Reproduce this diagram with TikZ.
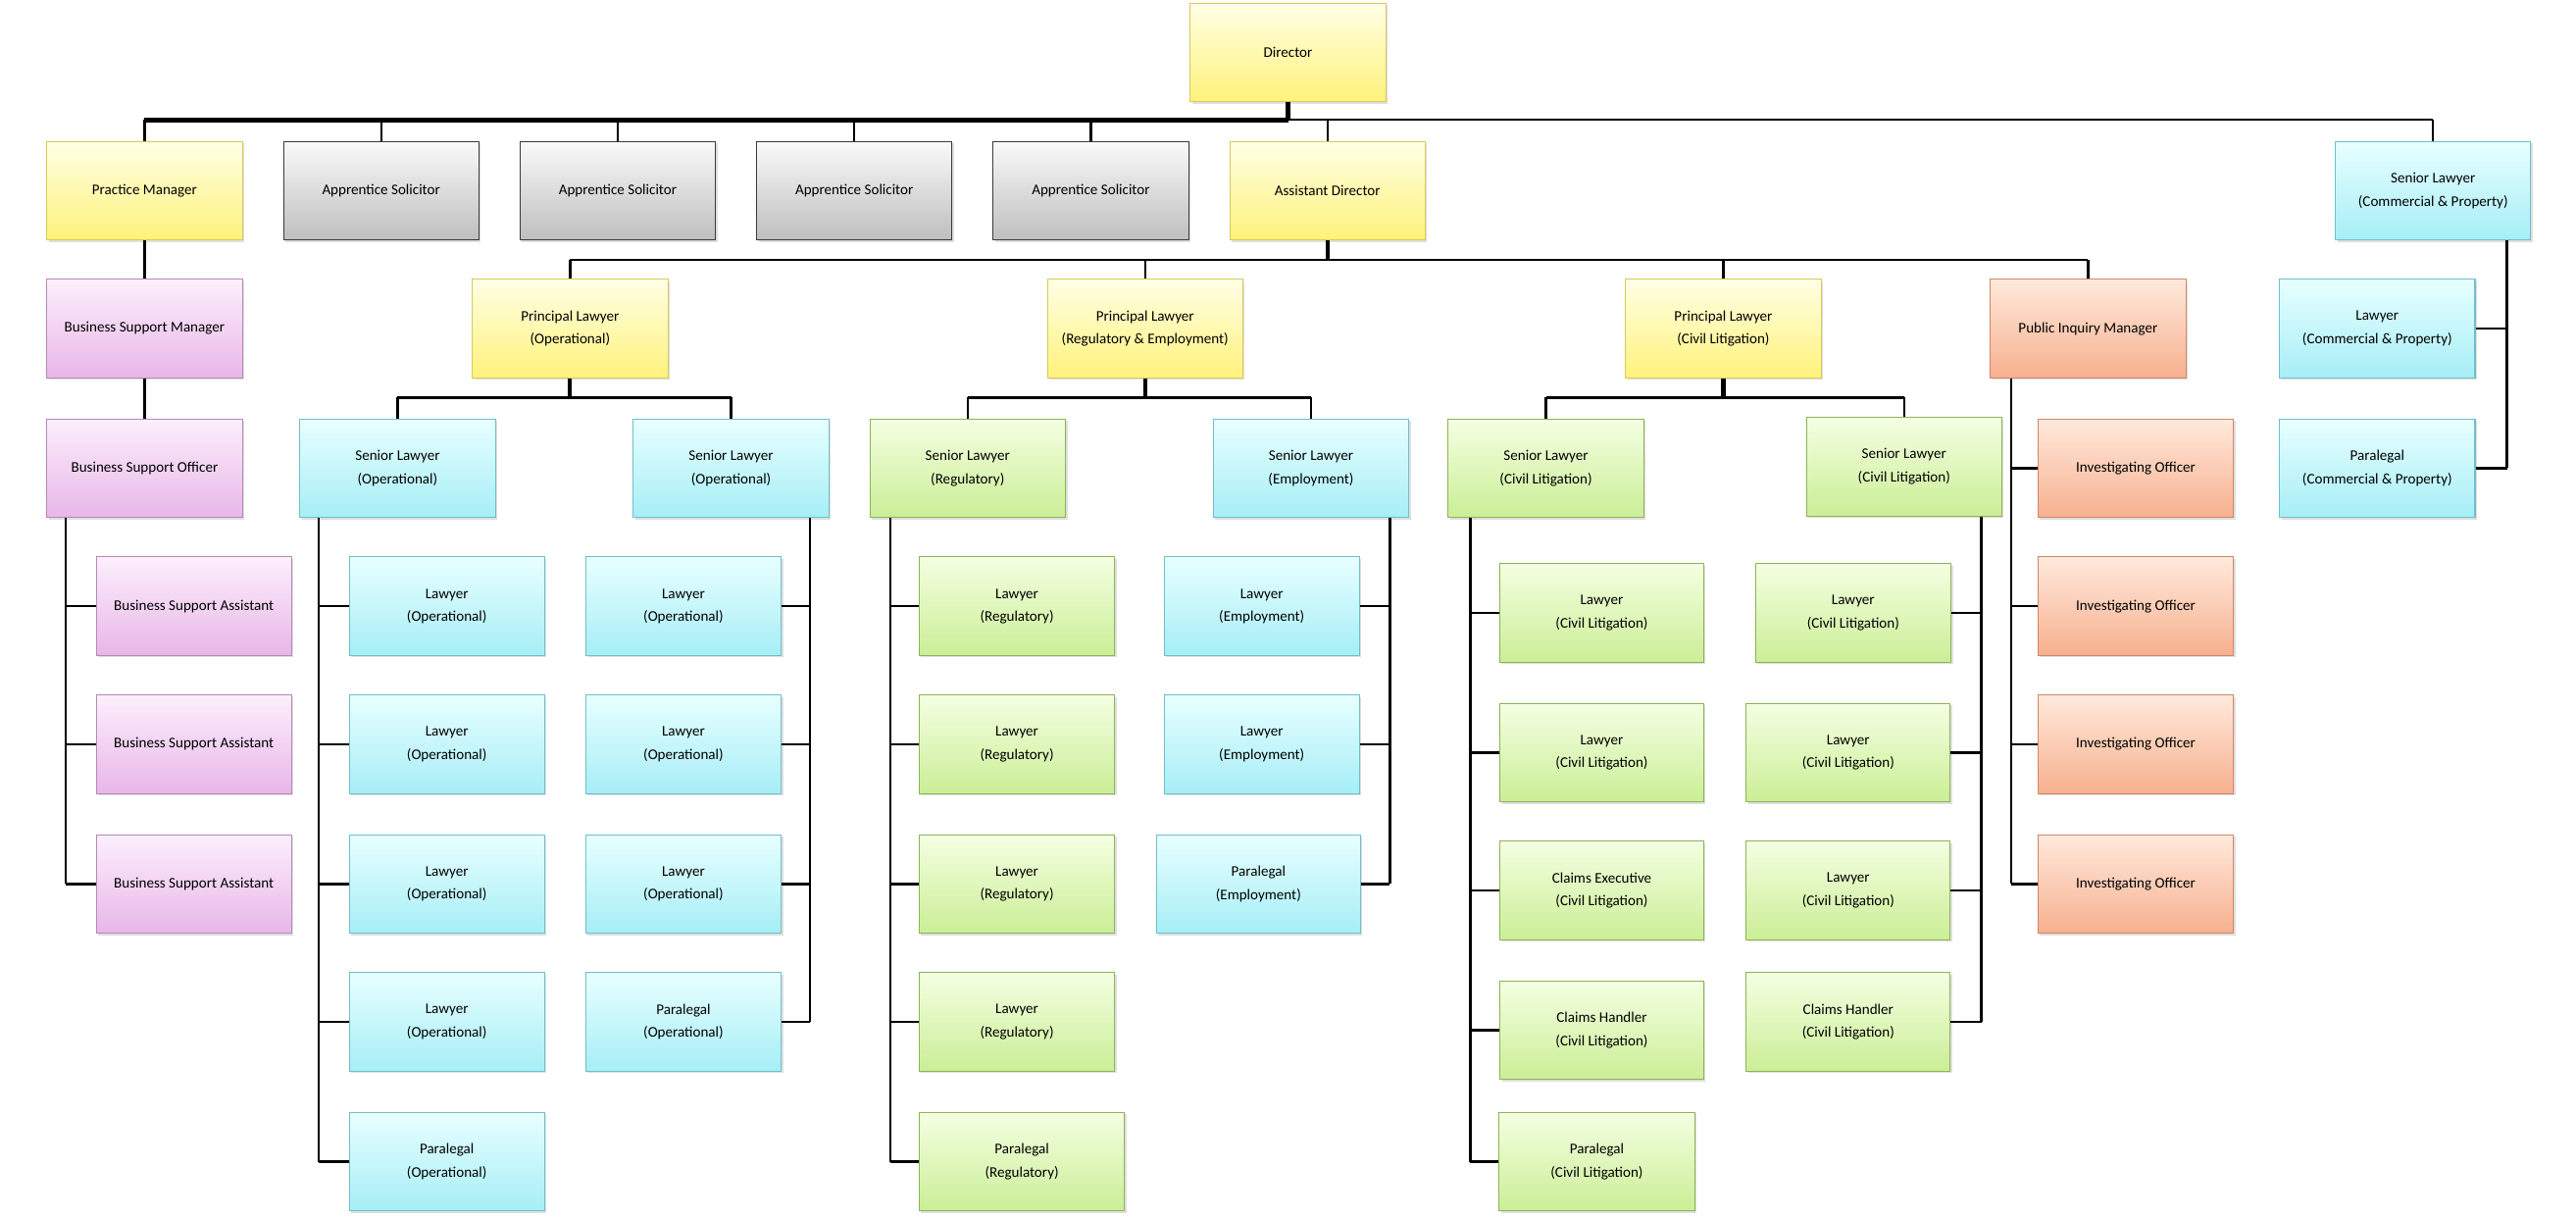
\documentclass[tikz,border=0pt]{standalone}
\usepackage{fontspec}
\setmainfont{Carlito}
\usetikzlibrary{shadows}
\definecolor{yT}{HTML}{FFFFE6}\definecolor{yB}{HTML}{FFF27A}\definecolor{yD}{HTML}{D9C95A}
\definecolor{gT}{HTML}{FAFAFA}\definecolor{gB}{HTML}{BEBEBE}\definecolor{gD}{HTML}{3A3A3A}
\definecolor{pT}{HTML}{FCEFFC}\definecolor{pB}{HTML}{E8B6E8}\definecolor{pD}{HTML}{B58AB5}
\definecolor{cT}{HTML}{E8FFFF}\definecolor{cB}{HTML}{A6EEF6}\definecolor{cD}{HTML}{6FBFCB}
\definecolor{lT}{HTML}{F4FFE2}\definecolor{lB}{HTML}{CBEE96}\definecolor{lD}{HTML}{8DB356}
\definecolor{oT}{HTML}{FFE9DC}\definecolor{oB}{HTML}{F7B08E}\definecolor{oD}{HTML}{D0866A}
\tikzset{
 box/.style={rectangle,minimum width=119pt,minimum height=60pt,align=center,inner sep=1pt,
   font=\fontsize{9}{14}\selectfont,line width=0.6pt,drop shadow={opacity=0.25,shadow xshift=1.2pt,shadow yshift=-1.2pt}},
 ybox/.style={box,top color=yT,bottom color=yB,draw=yD},
 gbox/.style={box,top color=gT,bottom color=gB,draw=gD},
 pbox/.style={box,top color=pT,bottom color=pB,draw=pD},
 cbox/.style={box,top color=cT,bottom color=cB,draw=cD},
 lbox/.style={box,top color=lT,bottom color=lB,draw=lD},
 obox/.style={box,top color=oT,bottom color=oB,draw=oD},
 conn/.style={draw=black,line width=1.4pt},
}
\begin{document}
\begin{tikzpicture}[x=1pt,y=-1pt]
\useasboundingbox (0,0) rectangle (1568,741);
% top
\node[ybox] (dir) at (784,32) {Director};
\node[ybox] (pm) at (88,116) {Practice Manager};
\node[gbox] (ap1) at (232,116) {Apprentice Solicitor};
\node[gbox] (ap2) at (376,116) {Apprentice Solicitor};
\node[gbox] (ap3) at (520,116) {Apprentice Solicitor};
\node[gbox] (ap4) at (664,116) {Apprentice Solicitor};
\node[ybox] (ad) at (808,116) {Assistant Director};
\node[cbox] (cp) at (1481,116) {Senior Lawyer\\(Commercial \& Property)};
\coordinate (busA) at (784,73);
\draw[conn] (pm.north |- busA) -- (cp.north |- busA);
\draw[conn,line width=3pt] (dir.south) -- (busA);
\draw[conn,line width=3pt] (pm.north |- busA) -- (busA);
\foreach \n in {pm,ap1,ap2,ap3,ap4,ad,cp} \draw[conn] (\n.north) -- (\n.north |- busA);
% practice manager branch
\node[pbox] (bsm) at (88,200) {Business Support Manager};
\node[pbox] (bso) at (88,285) {Business Support Officer};
\draw[conn] (pm) -- (bsm); \draw[conn] (bsm) -- (bso);
\node[pbox] (bsa1) at (118,369) {Business Support Assistant};
\node[pbox] (bsa2) at (118,453) {Business Support Assistant};
\node[pbox] (bsa3) at (118,538) {Business Support Assistant};
\coordinate (v1) at (40,0);
\draw[conn] (bso.south -| v1) -- (bsa3.west -| v1);
\foreach \n in {bsa1,bsa2,bsa3} \draw[conn] (\n.west) -- (\n.west -| v1);
% commercial & property
\node[cbox] (cpl) at (1447,200) {Lawyer\\(Commercial \& Property)};
\node[cbox] (cpp) at (1447,285) {Paralegal\\(Commercial \& Property)};
\coordinate (v2) at (1526,0);
\draw[conn] (cp.south -| v2) -- (cpp.east -| v2);
\foreach \n in {cpl,cpp} \draw[conn] (\n.east) -- (\n.east -| v2);
% assistant director
\node[ybox] (plo) at (347,200) {Principal Lawyer\\(Operational)};
\node[ybox] (plr) at (697,200) {Principal Lawyer\\(Regulatory \& Employment)};
\node[ybox] (plc) at (1049,200) {Principal Lawyer\\(Civil Litigation)};
\node[obox] (pim) at (1271,200) {Public Inquiry Manager};
\coordinate (busB) at (808,158);
\draw[conn] (plo.north |- busB) -- (pim.north |- busB);
\draw[conn,line width=2.5pt] (ad.south) -- (busB);
\foreach \n in {plo,plr,plc,pim} \draw[conn] (\n.north) -- (\n.north |- busB);
% senior lawyers
\coordinate (busC) at (0,242);
\node[cbox] (so1) at (242,285) {Senior Lawyer\\(Operational)};
\node[cbox] (so2) at (445,285) {Senior Lawyer\\(Operational)};
\node[lbox] (sr) at (589,285) {Senior Lawyer\\(Regulatory)};
\node[cbox] (se) at (798,285) {Senior Lawyer\\(Employment)};
\node[lbox] (sc1) at (941,285) {Senior Lawyer\\(Civil Litigation)};
\node[lbox] (sc2) at (1159,284) {Senior Lawyer\\(Civil Litigation)};
\draw[conn] (so1.north |- busC) -- (so2.north |- busC);
\draw[conn] (sr.north |- busC) -- (se.north |- busC);
\draw[conn] (sc1.north |- busC) -- (sc2.north |- busC);
\draw[conn,line width=2.5pt] (plo.south) -- (plo.south |- busC);
\draw[conn,line width=2.5pt] (plr.south) -- (plr.south |- busC);
\draw[conn,line width=2.5pt] (plc.south) -- (plc.south |- busC);
\foreach \n in {so1,so2,sr,se,sc1,sc2} \draw[conn] (\n.north) -- (\n.north |- busC);
% operational 1
\node[cbox] (o11) at (272,369) {Lawyer\\(Operational)};
\node[cbox] (o12) at (272,453) {Lawyer\\(Operational)};
\node[cbox] (o13) at (272,538) {Lawyer\\(Operational)};
\node[cbox] (o14) at (272,622) {Lawyer\\(Operational)};
\node[cbox] (o15) at (272,707) {Paralegal\\(Operational)};
\coordinate (v3) at (194,0);
\draw[conn] (so1.south -| v3) -- (o15.west -| v3);
\foreach \n in {o11,o12,o13,o14,o15} \draw[conn] (\n.west) -- (\n.west -| v3);
% operational 2
\node[cbox] (o21) at (416,369) {Lawyer\\(Operational)};
\node[cbox] (o22) at (416,453) {Lawyer\\(Operational)};
\node[cbox] (o23) at (416,538) {Lawyer\\(Operational)};
\node[cbox] (o24) at (416,622) {Paralegal\\(Operational)};
\coordinate (v4) at (493,0);
\draw[conn] (so2.south -| v4) -- (o24.east -| v4);
\foreach \n in {o21,o22,o23,o24} \draw[conn] (\n.east) -- (\n.east -| v4);
% regulatory
\node[lbox] (r1) at (619,369) {Lawyer\\(Regulatory)};
\node[lbox] (r2) at (619,453) {Lawyer\\(Regulatory)};
\node[lbox] (r3) at (619,538) {Lawyer\\(Regulatory)};
\node[lbox] (r4) at (619,622) {Lawyer\\(Regulatory)};
\node[lbox,minimum width=125pt] (r5) at (622,707) {Paralegal\\(Regulatory)};
\coordinate (v5) at (542,0);
\draw[conn] (sr.south -| v5) -- (r5.west -| v5);
\foreach \n in {r1,r2,r3,r4,r5} \draw[conn] (\n.west) -- (\n.west -| v5);
% employment
\node[cbox] (e1) at (768,369) {Lawyer\\(Employment)};
\node[cbox] (e2) at (768,453) {Lawyer\\(Employment)};
\node[cbox,minimum width=124pt] (e3) at (766,538) {Paralegal\\(Employment)};
\coordinate (v6) at (846,0);
\draw[conn] (se.south -| v6) -- (e3.east -| v6);
\foreach \n in {e1,e2,e3} \draw[conn] (\n.east) -- (\n.east -| v6);
% civil litigation 1
\node[lbox,minimum width=124pt] (c11) at (975,373) {Lawyer\\(Civil Litigation)};
\node[lbox,minimum width=124pt] (c12) at (975,458) {Lawyer\\(Civil Litigation)};
\node[lbox,minimum width=124pt] (c13) at (975,542) {Claims Executive\\(Civil Litigation)};
\node[lbox,minimum width=124pt] (c14) at (975,627) {Claims Handler\\(Civil Litigation)};
\node[lbox] (c15) at (972,707) {Paralegal\\(Civil Litigation)};
\coordinate (v7) at (895,0);
\draw[conn] (sc1.south -| v7) -- (c15.west -| v7);
\foreach \n in {c11,c12,c13,c14,c15} \draw[conn] (\n.west) -- (\n.west -| v7);
% civil litigation 2
\node[lbox] (c21) at (1128,373) {Lawyer\\(Civil Litigation)};
\node[lbox,minimum width=124pt] (c22) at (1125,458) {Lawyer\\(Civil Litigation)};
\node[lbox,minimum width=124pt] (c23) at (1125,542) {Lawyer\\(Civil Litigation)};
\node[lbox,minimum width=124pt] (c24) at (1125,622) {Claims Handler\\(Civil Litigation)};
\coordinate (v8) at (1206,0);
\draw[conn] (sc2.south -| v8) -- (c24.east -| v8);
\foreach \n in {c21,c22,c23,c24} \draw[conn] (\n.east) -- (\n.east -| v8);
% public inquiry
\node[obox] (io1) at (1300,285) {Investigating Officer};
\node[obox] (io2) at (1300,369) {Investigating Officer};
\node[obox] (io3) at (1300,453) {Investigating Officer};
\node[obox] (io4) at (1300,538) {Investigating Officer};
\coordinate (v9) at (1224,0);
\draw[conn] (pim.south -| v9) -- (io4.west -| v9);
\foreach \n in {io1,io2,io3,io4} \draw[conn] (\n.west) -- (\n.west -| v9);
\end{tikzpicture}
\end{document}
